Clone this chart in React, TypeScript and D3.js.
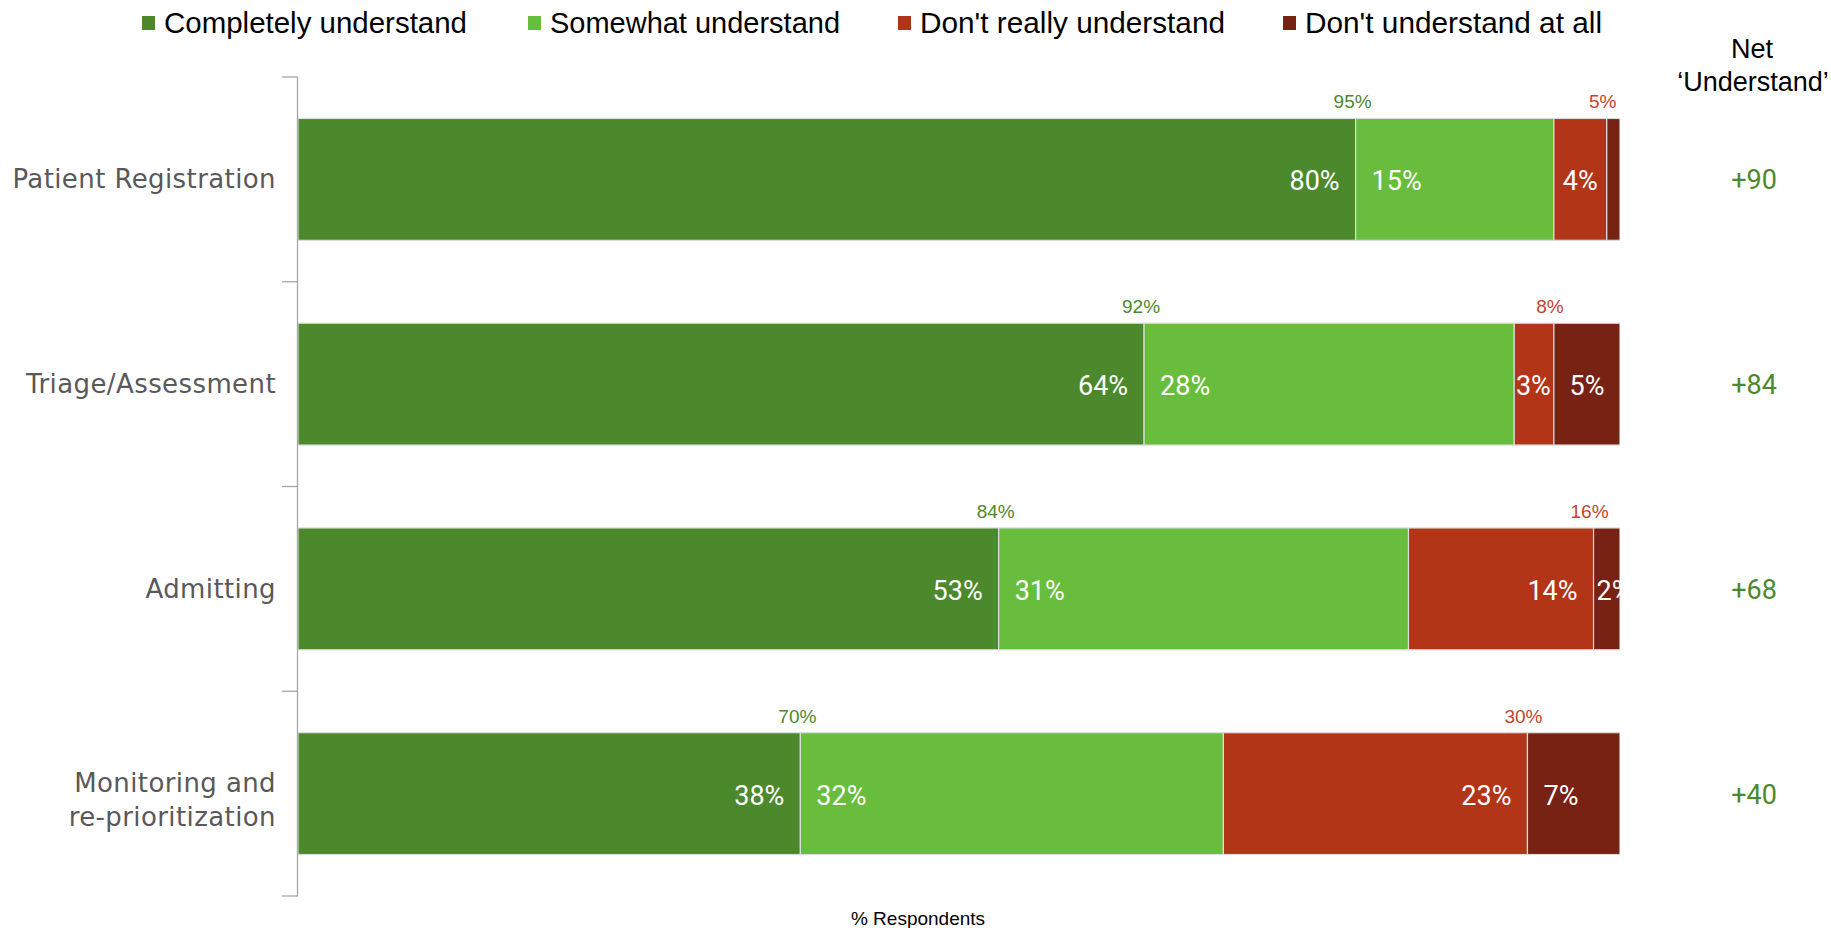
import React from "react";
import * as d3 from "d3";

const categories = ["Patient Registration", "Triage/Assessment", "Admitting", "Monitoring and|re-prioritization"];
const seriesNames = ["Completely understand", "Somewhat understand", "Don't really understand", "Don't understand at all"];
const completely = [80, 64, 53, 38];
const somewhat = [15, 28, 31, 32];
const notReally = [4, 3, 14, 23];
const notAtAll = [1, 5, 2, 7];
const understandTotals = [95, 92, 84, 70];
const notUnderstandTotals = [5, 8, 16, 30];
const netUnderstand = [90, 84, 68, 40];
const colors = ["#4c892c", "#69bd3c", "#b33517", "#782213"];

const W = 1831;
const H = 928;
const NARROW = "'Liberation Sans Narrow', 'Arial Narrow', sans-serif";
const SANS = "'DejaVu Sans', Tahoma, sans-serif";
const NUM = "Roboto, 'Liberation Sans', sans-serif";

function labelWidth(s: string, size: number) {
  let w = 0;
  for (const ch of s) w += ch === "%" ? 0.733 : 0.562;
  return w * size;
}

export default function App() {
  const x = d3.scaleLinear().domain([0, 100]).range([298, 1620]);
  const y = d3.scaleBand<string>().domain(categories).range([77, 896]).paddingInner(0.405).paddingOuter(0.2025);
  const series = [completely, somewhat, notReally, notAtAll];
  const stack = d3.stack<number>().keys(["0", "1", "2", "3"]).value((i, k) => series[+k][i]);
  const stacked = stack(categories.map((_, i) => i));
  const bw = y.bandwidth();
  const labelSize = 27;
  const legendX = [142, 528, 898, 1283];
  const legendW = [303, 290, 305, 297];

  return (
    <svg width={W} height={H} style={{ position: "absolute", left: 0, top: 0, background: "#fff" }}>
      <defs>
        <clipPath id="plot">
          <rect x={298} y={60} width={1322} height={840} />
        </clipPath>
      </defs>
      {/* legend */}
      {seriesNames.map((n, i) => (
        <g key={n}>
          <rect x={legendX[i]} y={16} width={13} height={14} fill={colors[i]} />
          <text x={legendX[i] + 22} y={33} fontFamily={NARROW} fontSize={29} fill="#000" textLength={legendW[i]} lengthAdjust="spacingAndGlyphs">{n}</text>
        </g>
      ))}
      <text x={1752} y={58} textAnchor="middle" fontFamily={NARROW} fontSize={27} fill="#000">Net</text>
      <text x={1753} y={91} textAnchor="middle" fontFamily={NARROW} fontSize={27} fill="#000">‘Understand’</text>

      {/* axis */}
      <line x1={297.5} x2={297.5} y1={77} y2={896} stroke="#a6a6a6" strokeWidth={1.3} />
      {[0, 1, 2, 3, 4].map((k) => {
        const ty = 77 + k * y.step();
        return <line key={k} x1={282} x2={298} y1={ty} y2={ty} stroke="#a6a6a6" strokeWidth={1.3} />;
      })}

      {/* category labels */}
      {categories.map((c) => {
        const lines = c.split("|");
        const cy = (y(c) as number) + bw / 2 + (lines.length > 1 ? 6 : 0);
        return (
          <text key={c} textAnchor="end" fontFamily={SANS} fontSize={26} fill="#595959" letterSpacing={0.4}>
            {lines.map((l, j) => (
              <tspan key={j} x={276} y={cy + 9 + (j - (lines.length - 1) / 2) * 34}>{l}</tspan>
            ))}
          </text>
        );
      })}

      {/* bars */}
      {stacked.map((s, si) => (
        <g key={si} clipPath="url(#plot)">
          {s.map((d, i) => {
            const x0 = x(d[0]);
            const x1 = x(d[1]);
            const yy = y(categories[i]) as number;
            return <rect key={i} x={x0} y={yy} width={x1 - x0} height={bw} fill={colors[si]} stroke="#dcdcdc" strokeWidth={1.2} />;
          })}
          {s.map((d, i) => {
            const v = series[si][i];
            if (v < 2) return null;
            const x0 = x(d[0]);
            const x1 = x(d[1]);
            const w = x1 - x0;
            const label = `${v}%`;
            const tw = labelWidth(label, labelSize);
            const pad = Math.max(3, Math.min(16, (w - tw) / 2));
            const endAligned = si === 0 || si === 2;
            const lx = endAligned ? x1 - pad : x0 + pad;
            const cy = (y(categories[i]) as number) + bw / 2 + 11;
            return (
              <text key={"l" + i} x={lx} y={cy} textAnchor={endAligned ? "end" : "start"} fontFamily={NUM} fontSize={labelSize} fill="#fff">{label}</text>
            );
          })}
        </g>
      ))}

      {/* totals above bars */}
      {categories.map((c, i) => {
        const top = y(c) as number;
        return (
          <g key={c}>
            <text x={x(completely[i]) - 3} y={top - 10} textAnchor="middle" fontFamily={NARROW} fontSize={19} fill="#4c892c">{understandTotals[i]}%</text>
            <text x={x(completely[i] + somewhat[i] + notReally[i]) - 4} y={top - 10} textAnchor="middle" fontFamily={NARROW} fontSize={19} fill="#c0452a">{notUnderstandTotals[i]}%</text>
          </g>
        );
      })}

      {/* net values */}
      {categories.map((c, i) => (
        <text key={c} x={1754} y={(y(c) as number) + bw / 2 + 10} textAnchor="middle" fontFamily={NUM} fontSize={27} fill="#4c892c">+{netUnderstand[i]}</text>
      ))}

      <text x={918} y={925} textAnchor="middle" fontFamily={NARROW} fontSize={19} fill="#000">% Respondents</text>
    </svg>
  );
}
